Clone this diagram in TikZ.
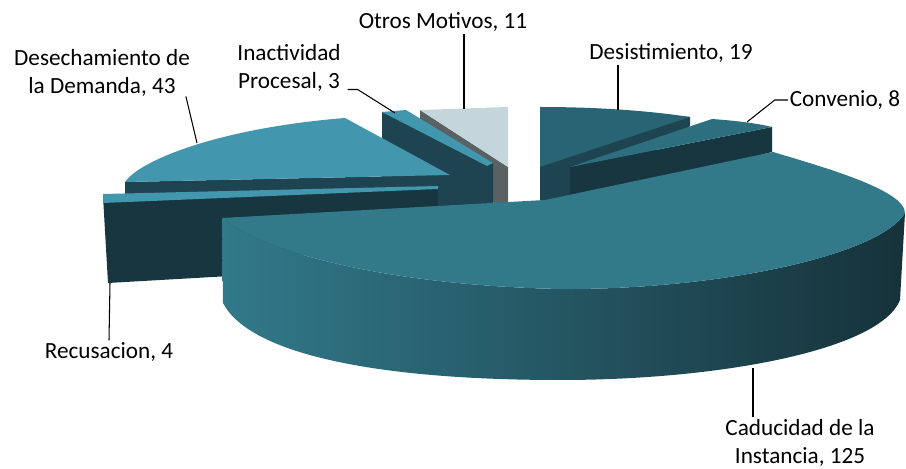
\documentclass[tikz,border=0pt]{standalone}
\usepackage{fontspec}
\setmainfont{Carlito}
\usepackage{tikz}

\definecolor{light_top}{RGB}{66,151,174}
\definecolor{dark_side}{RGB}{30,68,81}
\definecolor{darker_side}{RGB}{23,54,63}
\definecolor{desist_top}{RGB}{41,100,116}
\definecolor{conv_top}{RGB}{45,111,127}
\definecolor{cadu_top}{RGB}{50,121,138}
\definecolor{cadu_side_r}{RGB}{22,50,58}
\definecolor{otros_top}{RGB}{196,213,219}
\definecolor{otros_side}{RGB}{90,97,99}

\begin{document}
\begin{tikzpicture}[x=0.02cm, y=-0.02cm, line join=bevel]
    \tikzset{%
      pie_label/.style   = {font=\fontsize{13.2}{15.8}\selectfont, align=center, inner sep=1pt},
      leader_line/.style = {draw=black, line width=0.6pt}
    }
    \useasboundingbox (0,0) rectangle (906,469);

    % back slices first
    \fill[otros_side] (420,110) -- (508,167) -- (508,210) -- (420,165) -- cycle;
    \fill[otros_top]  (420,110) -- (508,107) -- (508,167) -- cycle;

    \fill[dark_side]  (540,107) -- (540,205) -- (580,205) -- (690,126) -- (690,117) -- cycle;
    \fill[desist_top] (540,107) .. controls (600,107) and (650,111) .. (690,117) -- (540,167) -- cycle;

    \fill[dark_side]  (382,112) -- (493,163) -- (493,210) -- (382,210) -- cycle;
    \fill[light_top]  (382,112) -- (406,110) -- (493,163) -- (487,166) -- cycle;

    \fill[darker_side] (570,167) -- (772,127) -- (772,152) -- (570,205) -- cycle;
    \fill[conv_top]    (570,167) -- (712,119) .. controls (740,121) and (760,124) .. (772,127) -- cycle;

    % left slices
    \fill[dark_side]  (125,182) -- (450,175) -- (450,210) -- (125,210) -- cycle;
    \fill[light_top]  (125,182) .. controls (140,160) and (220,128) .. (345,118) -- (450,175) -- cycle;

    \fill[darker_side] (103,196) -- (438,188) -- (438,215) -- (230,276) -- (108,283) -- cycle;
    \fill[light_top]   (103,194) -- (438,186) -- (438,189) -- (103,203) -- cycle;

    % big slice in front
    \shade[left color=cadu_top, right color=cadu_side_r]
      (222,218) -- (223,303) .. controls (250,355) and (380,380) .. (560,380)   % bottom edge
                .. controls (720,380) and (880,350) .. (900,300) -- (905,213)
                .. controls (880,255) and (720,290) .. (560,289)
                .. controls (380,285) and (260,250) .. (222,218) -- cycle;
    \fill[cadu_top]
      (222,218) -- (545,200) -- (773,152)
                .. controls (823,167) and (905,190) .. (905,213)                % back arc
                .. controls (880,255) and (720,290) .. (560,289)
                .. controls (380,285) and (260,250) .. (222,218) -- cycle;

    % labels
    \coordinate (desech_tip) at (197,143);
    \coordinate (inact_tip)  at (395,113);
    \coordinate (otros_tip)  at (464,109);
    \coordinate (desist_tip) at (618,110);
    \coordinate (conv_tip)   at (747,122);
    \coordinate (recus_tip)  at (110,283);
    \coordinate (cadu_tip)   at (753,368);

    \node[pie_label] (lbl_desech) at (102,73)  {Desechamiento de\\la Demanda, 43};
    \node[pie_label] (lbl_inact)  at (289,68)  {Inactividad\\Procesal, 3};
    \node[pie_label] (lbl_otros)  at (443,22)  {Otros Motivos, 11};
    \node[pie_label] (lbl_desist) at (671,53)  {Desistimiento, 19};
    \node[pie_label] (lbl_conv)   at (845,100) {Convenio, 8};
    \node[pie_label] (lbl_recus)  at (109,352) {Recusacion, 4};
    \node[pie_label] (lbl_cadu)   at (800,443) {Caducidad de la\\Instancia, 125};

    \draw[leader_line] ([shift={(-6,-2)}]lbl_desech.south east) -- (desech_tip);
    \draw[leader_line] ([shift={(5,-4)}]lbl_inact.south east) -- ++(10,0) -- (inact_tip);
    \draw[leader_line] (otros_tip |- lbl_otros.south) -- (otros_tip);
    \draw[leader_line] (desist_tip |- lbl_desist.south) -- (desist_tip);
    \draw[leader_line] (lbl_conv.west) -- ++(-13,0) -- (conv_tip);
    \draw[leader_line] (lbl_recus.north) -- (recus_tip);
    \draw[leader_line] (cadu_tip |- lbl_cadu.north) -- (cadu_tip);
\end{tikzpicture}
\end{document}
